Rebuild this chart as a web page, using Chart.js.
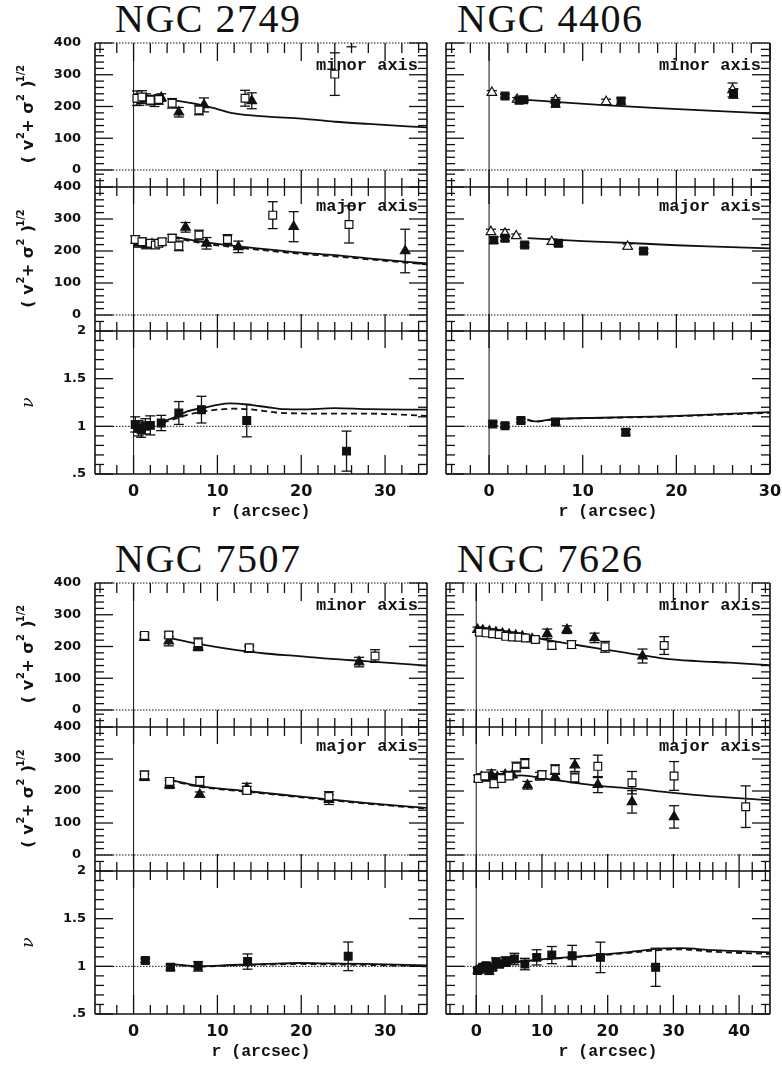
<!DOCTYPE html>
<html>
<head>
<meta charset="utf-8">
<script src="https://cdn.jsdelivr.net/npm/chart.js@4.4.0/dist/chart.umd.min.js"></script>
<style>
  body { margin: 0; background: #fff; width: 782px; height: 1065px; position: relative; overflow: hidden; }
  canvas { position: absolute; }
  .title { position: absolute; font-family: "Liberation Serif"; font-size: 40px; line-height: 40px; letter-spacing: 1.5px; color: #111; white-space: nowrap; }
</style>
</head>
<body>
<div class="title" style="left:115px;top:-1px">NGC 2749</div>
<div class="title" style="left:457px;top:-1px">NGC 4406</div>
<div class="title" style="left:115px;top:539px">NGC 7507</div>
<div class="title" style="left:457px;top:539px">NGC 7626</div>
<script>
const INK = '#111';

// rows are [r (arcsec), value, error]
// NGC 2749
const n2749MinorSq = [[0.4,226,23],[1.0,230,20],[2.0,220,15],[3.0,222,15],[4.6,210,15],[7.8,189,15],[13.3,226,25],[24.0,302,67]];
const n2749MinorTri = [[0.7,222,18],[1.5,225,15],[2.5,215,15],[3.3,228,12],[5.4,182,15],[8.4,205,22],[14.1,218,25],[26.0,452,64]];
const n2749MinorModel = [[4.8,220],[8,205],[10,192],[12,178],[16,168],[20,162],[24,152],[28,145],[35,134]];
const n2749MajorSq = [[0.2,236,12],[1.0,229,12],[2.0,224,10],[2.6,219,10],[3.0,224,10],[3.4,229,10],[4.6,240,12],[5.4,216,15],[7.8,250,15],[11.2,236,15],[16.6,312,42],[25.7,283,58]];
const n2749MajorTri = [[0.6,224,12],[1.5,219,12],[2.2,222,10],[6.2,274,15],[8.7,224,18],[12.5,213,18],[19.1,276,47],[32.4,200,68]];
const n2749MajorModel = [[4.8,245],[8,229],[12,216],[16,205],[20,195],[24,187],[28,177],[35,161]];
const n2749MajorModelDash = [[4.8,242],[8,225],[12,212],[16,201],[20,191],[24,183],[28,174],[35,158]];
const n2749Nu = [[0.2,1.02,0.08],[0.6,0.98,0.08],[0.9,0.965,0.08],[1.4,1.0,0.08],[2.0,1.01,0.1],[3.3,1.035,0.08],[5.4,1.14,0.12],[8.1,1.175,0.14],[13.5,1.06,0.17],[25.4,0.74,0.21]];
const n2749NuModel = [[3.5,1.05],[5,1.1],[6.4,1.157],[8.7,1.2],[10,1.225],[11.5,1.24],[13.9,1.225],[16,1.2],[18,1.18],[20,1.178],[24,1.19],[28,1.18],[35,1.175]];
const n2749NuModelDash = [[3.5,1.04],[5,1.08],[6.4,1.12],[8.7,1.16],[10,1.175],[11.9,1.185],[14.3,1.175],[17,1.145],[20,1.135],[24,1.133],[28,1.133],[35,1.11]];

// NGC 4406
const n4406MinorSq = [[1.7,233,6],[3.2,220,6],[3.7,221,6],[7.1,210,12],[14.1,217,10],[26.1,241,15]];
const n4406MinorTri = [[0.3,244,6],[3.0,222,6],[7.1,220,8],[12.5,215,8],[26.0,252,22]];
const n4406MinorModel = [[3,223],[6,217],[11.8,205],[18,195],[24,186],[30,178]];
const n4406MajorSq = [[0.5,234,10],[1.7,240,8],[3.8,219,6],[7.4,224,8],[16.5,200,6]];
const n4406MajorTri = [[0.2,260,8],[1.7,255,12],[2.9,247,6],[6.7,229,8],[14.8,214,8]];
const n4406MajorModel = [[4.1,240],[10,231],[15,225],[20,218],[25,213],[30,208]];
const n4406Nu = [[0.4,1.025,0.02],[1.7,1.007,0.02],[3.4,1.06,0.02],[7.1,1.045,0.03],[14.6,0.937,0.03]];
const n4406NuModel = [[4.1,1.07],[4.9,1.052],[7,1.077],[12,1.09],[18.7,1.105],[24,1.125],[30,1.15]];
const n4406NuModelDash = [[4.1,1.068],[4.9,1.05],[7,1.075],[12,1.088],[18.7,1.102],[24,1.12],[30,1.142]];

// NGC 7507
const n7507MinorSq = [[1.3,235,8],[4.2,236,10],[7.7,212,15],[13.8,196,8],[28.8,170,20]];
const n7507MinorTri = [[1.3,228,8],[4.2,217,15],[7.7,199,12],[13.8,191,8],[26.9,151,15]];
const n7507MinorModel = [[4.2,227],[7.7,208],[11.7,191],[15.7,178],[19.7,170],[23.6,161],[27.6,154],[35,140]];
const n7507MajorSq = [[1.3,250,12],[4.3,230,10],[7.9,230,15],[13.5,202,12],[23.3,183,15]];
const n7507MajorTri = [[1.3,243,10],[4.3,220,12],[7.9,189,8],[13.5,209,15],[23.3,173,15]];
const n7507MajorModel = [[4.3,235],[7.7,216],[11.7,204],[15.7,194],[19.7,183],[23.6,173],[27.6,163],[35,147]];
const n7507MajorModelDash = [[4.3,233],[7.7,214],[11.7,202],[15.7,192],[19.7,181],[23.6,171],[27.6,161],[35,145]];
const n7507Nu = [[1.4,1.06,0.02],[4.4,0.99,0.03],[7.7,1.0,0.05],[13.6,1.05,0.08],[25.6,1.105,0.15]];
const n7507NuModel = [[4.4,1.025],[7.7,1.0],[11.7,1.014],[15.7,1.025],[19.7,1.035],[23.6,1.03],[27.6,1.025],[35,1.01]];
const n7507NuModelDash = [[4.4,1.02],[7.7,0.998],[11.7,1.01],[15.7,1.018],[19.7,1.025],[23.6,1.02],[27.6,1.015],[35,1.0]];

// NGC 7626
const n7626MinorSq = [[0.5,245,8],[1.5,243,8],[2.5,240,8],[3.5,238,8],[4.5,232,8],[5.5,230,8],[6.5,229,8],[7.5,227,8],[9.0,222,8],[11.5,203,12],[14.5,206,12],[19.6,199,17],[28.6,203,28]];
const n7626MinorTri = [[0.2,253,8],[1.0,251,8],[2.0,248,8],[3.0,245,8],[4.0,241,8],[5.0,238,8],[6.0,235,8],[7.0,232,8],[8.5,224,8],[10.8,240,15],[13.8,253,12],[18.0,227,15],[25.3,170,22]];
const n7626MinorModel = [[0.3,252],[3,242],[6,233],[8.8,227],[13.8,210],[18.7,193],[23.7,177],[26.2,170],[28.6,162],[33.6,154],[38.5,149],[44.7,141]];
const n7626MajorSq = [[0.3,239,10],[1.3,247,10],[2.7,223,12],[3.8,239,10],[5.0,247,10],[6.1,275,15],[7.4,286,15],[10.0,251,12],[12.0,267,15],[15.0,241,15],[18.5,277,35],[23.7,226,35],[30.1,247,45],[41.0,151,65]];
const n7626MajorTri = [[0.8,244,10],[1.8,241,10],[2.3,251,15],[3.2,244,10],[4.4,251,10],[5.5,251,10],[7.8,218,12],[9.7,246,12],[12.0,244,10],[15.0,281,20],[18.5,220,25],[23.7,166,35],[30.1,119,35]];
const n7626MajorModel = [[0.3,235],[3,240],[6.8,249],[10.3,239],[13.8,229],[18.7,216],[23.7,208],[28.6,197],[33.6,187],[44.7,171]];
const n7626Nu = [[0.2,0.955,0.03],[0.6,0.97,0.03],[1.0,0.99,0.03],[1.5,1.007,0.03],[2.0,0.955,0.04],[2.5,0.99,0.03],[3.0,1.04,0.05],[3.5,1.024,0.04],[4.5,1.05,0.05],[5.8,1.077,0.06],[7.4,1.024,0.06],[9.2,1.094,0.08],[11.5,1.118,0.09],[14.6,1.11,0.11],[18.9,1.094,0.16],[27.3,0.99,0.2]];
const n7626NuModel = [[0.2,0.955],[3.9,1.024],[8.8,1.066],[13.8,1.094],[18.7,1.12],[23.7,1.153],[28.6,1.188],[31.1,1.19],[36,1.17],[44.7,1.146]];
const n7626NuModelDash = [[0.2,0.955],[3.9,1.02],[8.8,1.062],[13.8,1.09],[18.7,1.115],[23.7,1.145],[28.6,1.174],[31.1,1.178],[36,1.153],[44.7,1.13]];

// panel layout
const GROUP_TOP = [43, 583];
const COLS = [
  {cx: 0, cw: 440, left: 95, right: 427},
  {cx: 430, cw: 360, left: 438, right: 770}
];
const KIND = {
  minor: {off: 0, h: 127, yMin: 0, yMax: 400},
  major: {off: 127, h: 145, yMin: 0, yMax: 400 * 145 / 128},
  nu: {off: 272, h: 159, yMin: 0.5, yMax: 0.5 + 1.5 * 159 / 143}
};

function pts(rows) { return rows.map(r => ({x: r[0], y: r[1]})); }

function markers(rows, style, filled) {
  return {
    data: pts(rows),
    errs: rows.map(r => r[2]),
    showLine: false,
    pointStyle: style,
    pointRadius: 5.5,
    pointBackgroundColor: filled ? INK : '#fff',
    pointBorderColor: INK,
    pointBorderWidth: 1.2
  };
}

function model(rows, dashed) {
  return {
    data: pts(rows),
    showLine: true,
    pointRadius: 0,
    borderColor: INK,
    borderWidth: 1.8,
    borderDash: dashed ? [6, 4] : [],
    cubicInterpolationMode: 'monotone'
  };
}

const seg = (ctx, x1, y1, x2, y2) => {
  ctx.beginPath(); ctx.moveTo(x1, y1); ctx.lineTo(x2, y2); ctx.stroke();
};

const framePlugin = {
  id: 'frame',
  beforeDatasetsDraw(chart, args, o) {
    const {ctx, chartArea: a, scales: {x, y}} = chart;
    ctx.save();
    ctx.strokeStyle = INK;

    // r = 0 line
    ctx.lineWidth = 1;
    const x0 = x.getPixelForValue(0);
    seg(ctx, x0, a.top, x0, a.bottom);

    // dotted lines
    ctx.setLineDash([1.5, 1.5]);
    if (o.kind === 'nu') {
      const y1 = y.getPixelForValue(1);
      seg(ctx, a.left, y1, a.right, y1);
    } else {
      seg(ctx, a.left, a.bottom, a.right, a.bottom);
    }
    if (o.kind === 'minor') seg(ctx, a.left, a.top, a.right, a.top);
    ctx.setLineDash([]);

    // sides
    ctx.lineWidth = 1.6;
    seg(ctx, a.left, a.top, a.left, a.bottom);
    seg(ctx, a.right, a.top, a.right, a.bottom);

    // y ticks on both sides
    ctx.lineWidth = 1.3;
    const st = o.kind === 'nu' ? [0.1, 0.5] : [20, 100];
    for (let i = 0; ; i++) {
      const v = y.min + i * st[0];
      if (v > y.max + 1e-6) break;
      const major = Math.abs(v / st[1] - Math.round(v / st[1])) < 1e-6;
      const L = major ? 18 : 9;
      const py = y.getPixelForValue(v);
      seg(ctx, a.left, py, a.left + L, py);
      seg(ctx, a.right, py, a.right - L, py);
    }

    // x ticks
    const xs = [];
    for (let v = Math.ceil(x.min / 2) * 2; v <= x.max + 1e-6; v += 2) xs.push(v);
    const row = (py, up, down) => {
      xs.forEach(v => {
        const major = v % 10 === 0;
        const px = x.getPixelForValue(v);
        seg(ctx, px, py - (major ? up[1] : up[0]), px, py + (major ? down[1] : down[0]));
      });
    };
    if (o.kind === 'minor') {
      row(a.top, [0, 0], [10, 18]);
    } else {
      const py = y.getPixelForValue(o.kind === 'nu' ? 2 : 400);
      ctx.lineWidth = 1.5;
      seg(ctx, a.left, py, a.right, py);
      ctx.lineWidth = 1.3;
      row(py, [9, 17], [9, 17]);
      if (o.kind === 'nu') {
        ctx.lineWidth = 1.5;
        seg(ctx, a.left, a.bottom, a.right, a.bottom);
        ctx.lineWidth = 1.3;
        row(a.bottom, [9, 19], [0, 0]);
      }
    }

    // error bars
    ctx.beginPath();
    ctx.rect(a.left, a.top, a.width, a.height);
    ctx.clip();
    ctx.lineWidth = 1.3;
    chart.data.datasets.forEach(ds => {
      if (!ds.errs) return;
      ds.data.forEach((p, i) => {
        const px = x.getPixelForValue(p.x);
        const lo = y.getPixelForValue(p.y - ds.errs[i]);
        const hi = y.getPixelForValue(p.y + ds.errs[i]);
        seg(ctx, px, lo, px, hi);
        seg(ctx, px - 5, lo, px + 5, lo);
        seg(ctx, px - 5, hi, px + 5, hi);
      });
    });
    ctx.restore();
  },
  afterDraw(chart, args, o) {
    const {ctx, chartArea: a, scales: {y}} = chart;
    ctx.save();
    ctx.fillStyle = INK;
    if (o.kind !== 'nu') {
      ctx.font = 'bold 17px "Liberation Mono"';
      ctx.textAlign = 'right';
      ctx.textBaseline = 'middle';
      const ly = o.kind === 'minor' ? a.top + 23 : y.getPixelForValue(400) + 20;
      ctx.fillText(o.kind + ' axis', a.right - 9, ly);
    }
    if (o.col === 0) {
      const topV = o.kind === 'nu' ? y.getPixelForValue(2) : y.getPixelForValue(400);
      ctx.textAlign = 'center';
      ctx.textBaseline = 'alphabetic';
      if (o.kind === 'nu') {
        ctx.translate(33, (topV + a.bottom) / 2);
        ctx.rotate(-Math.PI / 2);
        ctx.font = 'italic 17px "DejaVu Serif"';
        ctx.fillText('ν', 0, 0);
      } else {
        ctx.translate(33, (topV + a.bottom) / 2 + 8.5);
        ctx.rotate(-Math.PI / 2);
        const parts = [['(', 44.5, 0], ['v', 30, 0], ['2', 20.5, 1], ['+', 11, 0],
                       ['σ', -7.5, 0], ['2', -17.5, 1], [')', -31, 0], ['1/2', -41.5, 1]];
        parts.forEach(([t, off, sup]) => {
          ctx.font = sup ? 'bold 10px "DejaVu Sans"' : 'bold 16px "DejaVu Sans"';
          ctx.fillText(t, -off, sup ? -9 : 0);
        });
      }
    }
    ctx.restore();
  }
};

function makePanel(col, group, kind, xMax, datasets) {
  const c = COLS[col], k = KIND[kind];
  const top = GROUP_TOP[group] + k.off;
  // room for label overflow, Chart.js adds tick padding on top of half the label height
  const padTop = 26, padBottom = kind === 'nu' ? 6 : 26;
  const axisH = kind === 'nu' ? 48 : 0;
  const canvas = document.createElement('canvas');
  canvas.width = c.cw;
  canvas.height = padTop + k.h + axisH + padBottom;
  canvas.style.left = c.cx + 'px';
  canvas.style.top = (top - padTop) + 'px';
  document.body.appendChild(canvas);

  new Chart(canvas, {
    type: 'scatter',
    data: {datasets: datasets},
    options: {
      responsive: false,
      devicePixelRatio: 1,
      animation: false,
      events: [],
      layout: {
        padding: {
          top: padTop,
          bottom: padBottom,
          left: col === 0 ? 0 : c.left - c.cx,
          right: c.cx + c.cw - c.right
        }
      },
      plugins: {
        legend: {display: false},
        tooltip: {enabled: false},
        frame: {kind: kind, col: col}
      },
      scales: {
        x: {
          type: 'linear',
          min: -4.6,
          max: xMax,
          display: kind === 'nu',
          grid: {display: false, drawTicks: false},
          border: {display: false},
          ticks: {
            stepSize: 10,
            includeBounds: false,
            maxRotation: 0,
            autoSkip: false,
            padding: 8,
            color: INK,
            font: {family: 'DejaVu Sans', weight: 'bold', size: 16}
          },
          title: {
            display: true,
            text: 'r (arcsec)',
            color: INK,
            padding: {top: 0, bottom: 0},
            font: {family: 'Liberation Mono', weight: 'bold', size: 16.5}
          },
          afterFit: s => { s.height = axisH; }
        },
        y: {
          min: k.yMin,
          max: k.yMax,
          display: col === 0,
          grid: {display: false, drawTicks: false},
          border: {display: false},
          ticks: {
            stepSize: kind === 'nu' ? 0.5 : 100,
            includeBounds: false,
            autoSkip: false,
            padding: kind === 'nu' ? 9 : 14,
            color: INK,
            font: {family: 'DejaVu Sans', weight: 'bold', size: 13},
            callback: v => (v === 0.5 ? '.5' : String(v))
          },
          afterFit: s => { s.width = c.left - c.cx; }
        }
      }
    },
    plugins: [framePlugin]
  });
}

// NGC 2749
makePanel(0, 0, 'minor', 35, [markers(n2749MinorSq, 'rect', false), markers(n2749MinorTri, 'triangle', true), model(n2749MinorModel, false)]);
makePanel(0, 0, 'major', 35, [markers(n2749MajorSq, 'rect', false), markers(n2749MajorTri, 'triangle', true), model(n2749MajorModel, false), model(n2749MajorModelDash, true)]);
makePanel(0, 0, 'nu', 35, [markers(n2749Nu, 'rect', true), model(n2749NuModel, false), model(n2749NuModelDash, true)]);
// NGC 4406
makePanel(1, 0, 'minor', 30, [markers(n4406MinorSq, 'rect', true), markers(n4406MinorTri, 'triangle', false), model(n4406MinorModel, false)]);
makePanel(1, 0, 'major', 30, [markers(n4406MajorSq, 'rect', true), markers(n4406MajorTri, 'triangle', false), model(n4406MajorModel, false)]);
makePanel(1, 0, 'nu', 30, [markers(n4406Nu, 'rect', true), model(n4406NuModel, false), model(n4406NuModelDash, true)]);
// NGC 7507
makePanel(0, 1, 'minor', 35, [markers(n7507MinorSq, 'rect', false), markers(n7507MinorTri, 'triangle', true), model(n7507MinorModel, false)]);
makePanel(0, 1, 'major', 35, [markers(n7507MajorSq, 'rect', false), markers(n7507MajorTri, 'triangle', true), model(n7507MajorModel, false), model(n7507MajorModelDash, true)]);
makePanel(0, 1, 'nu', 35, [markers(n7507Nu, 'rect', true), model(n7507NuModel, false), model(n7507NuModelDash, true)]);
// NGC 7626
makePanel(1, 1, 'minor', 44.7, [markers(n7626MinorSq, 'rect', false), markers(n7626MinorTri, 'triangle', true), model(n7626MinorModel, false)]);
makePanel(1, 1, 'major', 44.7, [markers(n7626MajorSq, 'rect', false), markers(n7626MajorTri, 'triangle', true), model(n7626MajorModel, false)]);
makePanel(1, 1, 'nu', 44.7, [markers(n7626Nu, 'rect', true), model(n7626NuModel, false), model(n7626NuModelDash, true)]);
</script>
</body>
</html>
